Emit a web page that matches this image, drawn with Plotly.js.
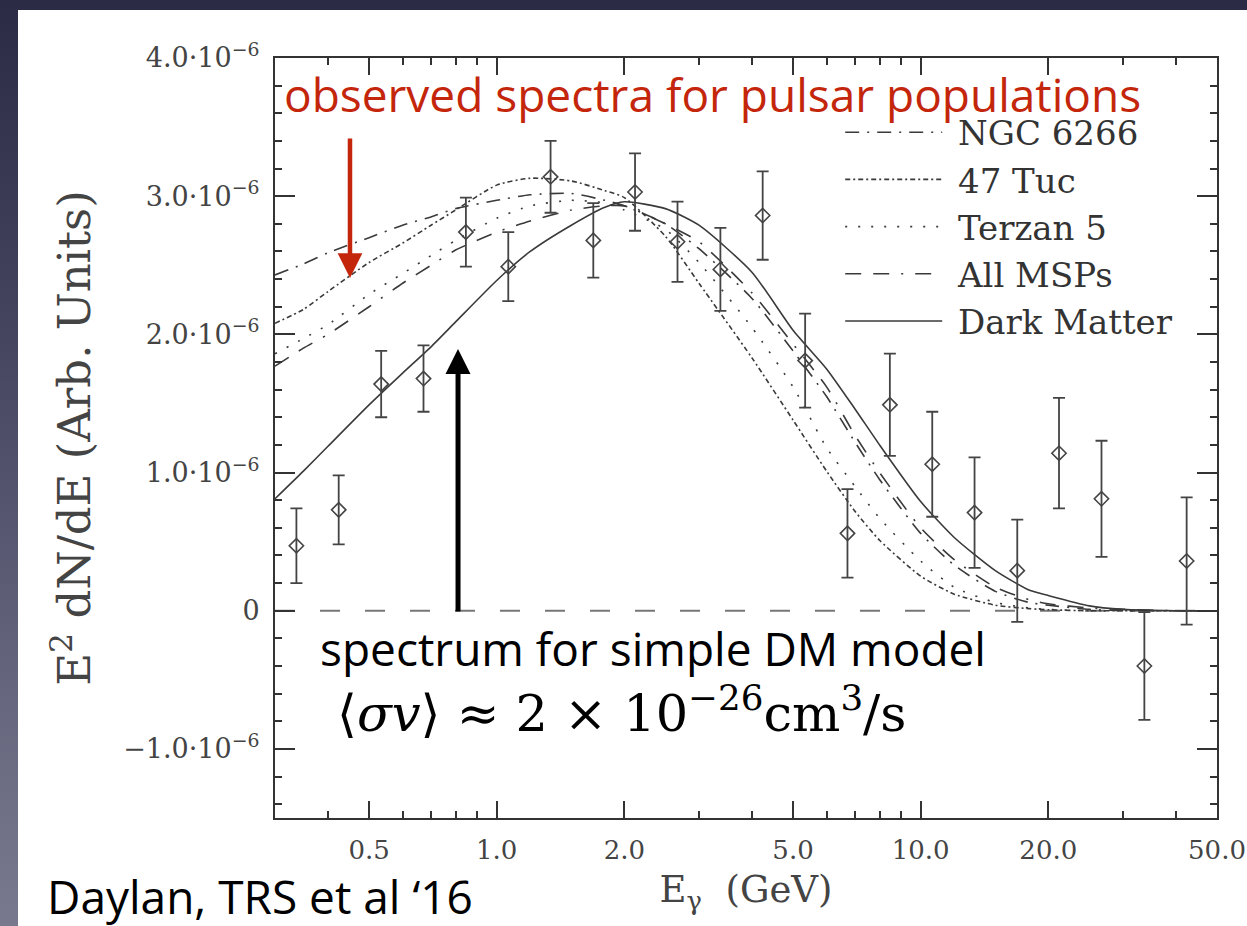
<!DOCTYPE html>
<html><head><meta charset="utf-8">
<script src="https://cdn.plot.ly/plotly-3.0.1.min.js"></script>
<style>
html,body{margin:0;padding:0;width:1247px;height:926px;overflow:hidden;
background:linear-gradient(to bottom,#2b2b46 0%,#44445f 35%,#66667e 75%,#78788e 100%);}
#chart{position:absolute;left:18px;top:10px;width:1229px;height:916px;background:#fff;}
</style></head><body><div id="chart"></div>
<script>
// Measured data points (E in GeV, E^2 dN/dE in units of 1e-6)
const energyBins = [0.337,0.424,0.534,0.672,0.846,1.065,1.34,1.69,2.12,2.67,3.37,4.24,5.34,6.72,8.46,10.65,13.4,16.9,21.2,26.7,33.7,42.4];
const fluxData   = [0.47,0.73,1.64,1.68,2.74,2.49,3.14,2.68,3.03,2.67,2.47,2.86,1.81,0.56,1.49,1.06,0.71,0.29,1.14,0.81,-0.40,0.36];
const fluxErr    = [0.27,0.25,0.24,0.24,0.25,0.25,0.26,0.27,0.28,0.29,0.30,0.32,0.34,0.32,0.37,0.38,0.40,0.37,0.40,0.42,0.39,0.46];

// Model spectra (units of 1e-6)
const modelE    = [0.3,0.35,0.4,0.5,0.6,0.7,0.8,1.0,1.2,1.5,1.8,2.0,2.5,3,4,5,6,7,8,10,12,15,18,20,25,30,40,50];
const ngc6266   = [2.43,2.51,2.59,2.70,2.79,2.85,2.91,2.97,3.01,3.02,2.97,2.93,2.80,2.62,2.26,1.88,1.55,1.22,0.95,0.56,0.33,0.14,0.06,0.04,0.01,0,0,0];
const tuc47     = [2.08,2.18,2.31,2.52,2.66,2.79,2.90,3.08,3.13,3.11,3.04,2.99,2.71,2.37,1.83,1.38,1.01,0.72,0.51,0.25,0.12,0.04,0.015,0.007,0,0,0,0];
const terzan5   = [1.86,1.97,2.07,2.29,2.44,2.57,2.68,2.84,2.93,2.97,2.95,2.90,2.76,2.52,2.05,1.62,1.18,0.90,0.67,0.36,0.17,0.06,0.02,0.01,0,0,0,0];
const allMSPs   = [1.77,1.90,2.00,2.20,2.37,2.50,2.61,2.74,2.82,2.90,2.93,2.93,2.80,2.67,2.30,1.93,1.62,1.27,1.00,0.60,0.37,0.17,0.08,0.05,0.02,0.01,0,0];
const darkMatter= [0.81,1.01,1.19,1.49,1.72,1.91,2.09,2.39,2.60,2.79,2.92,2.96,2.91,2.79,2.45,2.03,1.75,1.46,1.20,0.79,0.53,0.29,0.15,0.11,0.035,0.01,0,0];

const zeroE = [0.3,50];
const zeroY = [0,0];

const seriesNames = ['NGC 6266','47 Tuc','Terzan 5','All MSPs','Dark Matter'];

const xTickVals = [0.5,1,2,5,10,20,50];
const xTickText = ['0.5','1.0','2.0','5.0','10.0','20.0','50.0'];
const xMinorVals = [0.3,0.4,0.6,0.7,0.8,0.9,3,4,6,7,8,9,30,40];
const yTickVals = [-1,0,1,2,3,4];
const yTickText = ['−1.0·10<sup>−6</sup>','0','1.0·10<sup>−6</sup>','2.0·10<sup>−6</sup>','3.0·10<sup>−6</sup>','4.0·10<sup>−6</sup>'];

const serif = 'DejaVu Serif, serif';
const sans = 'Open Sans, Lato, sans-serif';
const lineCol = '#3a3a3a';
const pad = '\u00a0';

function model(name, y, dash){
  return {x: modelE, y: y, name: pad + name, type:'scatter', mode:'lines',
    line:{color: lineCol, width:1.6, dash: dash, shape:'spline', smoothing:0.6}};
}

const traces = [
  {x: zeroE, y: zeroY, type:'scatter', mode:'lines', showlegend:false,
   line:{color:'#777', width:2, dash:'20px,25px'}, hoverinfo:'skip'},
  model(seriesNames[0], ngc6266, '14px,8px,2px,8px'),
  model(seriesNames[1], tuc47, '5px,3px,2px,3px'),
  model(seriesNames[2], terzan5, '2px,11px'),
  model(seriesNames[3], allMSPs, '16px,12px,16px,12px,2px,12px'),
  model(seriesNames[4], darkMatter, 'solid'),
  {x: energyBins, y: fluxData, type:'scatter', mode:'markers', showlegend:false,
   marker:{symbol:'diamond-open', size:11, color:'#444', line:{width:1.6, color:'#444'}},
   error_y:{type:'data', array: fluxErr, visible:true, color:'#444', thickness:1.8, width:6}}
];

const axisCommon = {
  showline:true, linecolor:'#333', linewidth:2, mirror:'allticks',
  ticks:'inside', tickwidth:2, tickcolor:'#333', showgrid:false, zeroline:false
};

const layout = {
  width:1229, height:916,
  paper_bgcolor:'#fff', plot_bgcolor:'#fff',
  margin:{l:257, r:30, t:48, b:108},
  showlegend:true,
  legend:{x:0.6, y:0.94, xanchor:'left', yanchor:'top', bgcolor:'rgba(0,0,0,0)',
    font:{family:serif, size:34, color:'#333'}, itemwidth:97, tracegroupgap:0},
  xaxis: Object.assign({}, axisCommon, {
    type:'log', range:[Math.log10(0.3), Math.log10(50)],
    tickmode:'array', tickvals:xTickVals, ticktext:xTickText, ticklen:17,
    tickfont:{family:serif, size:26, color:'#444'}, ticklabelstandoff:8,
    minor:{tickmode:'array', tickvals:xMinorVals, ticks:'inside', ticklen:7, tickwidth:2, tickcolor:'#333', showgrid:false},
    title:{text:'E<sub>γ</sub>  (GeV)', font:{family:serif, size:37, color:'#444'}, standoff:12}
  }),
  yaxis: Object.assign({}, axisCommon, {
    range:[-1.5, 4.0],
    tickmode:'array', tickvals:yTickVals, ticktext:yTickText, ticklen:20,
    tickfont:{family:serif, size:27, color:'#444'}, ticklabelstandoff:8,
    minor:{dtick:0.2, tick0:0, ticks:'inside', ticklen:7, tickwidth:2, tickcolor:'#333', showgrid:false},
    title:{text:'E<sup>2</sup> dN/dE (Arb. Units)', font:{family:serif, size:45, color:'#444'}, standoff:18}
  }),
  annotations:[
    {xref:'paper', yref:'paper', x:0.007, y:0.952, xanchor:'left', yanchor:'middle', showarrow:false,
     text:'observed spectra for pulsar populations', font:{family:sans, size:46, color:'#c4260c'}},
    {xref:'paper', yref:'paper', x:0.0457, y:0.2237, xanchor:'left', yanchor:'middle', showarrow:false,
     text:'spectrum for simple DM model', font:{family:sans, size:46, color:'#000'}},
    {xref:'paper', yref:'paper', x:0.0637, y:0.142, xanchor:'left', yanchor:'middle', showarrow:false,
     text:'⟨<i>σv</i>⟩ ≈ 2 × 10<sup>−26</sup>cm<sup>3</sup>/s', font:{family:'DejaVu Serif, serif', size:51, color:'#000'}},
    {xref:'paper', yref:'paper', x:-0.244, y:-0.103, xanchor:'left', yanchor:'middle', showarrow:false,
     text:'Daylan, TRS et al ‘16', font:{family:sans, size:46, color:'#000'}},
    {xref:'paper', yref:'paper', x:0.0796, y:0.7105, ax:0, ay:-141, text:'', showarrow:true,
     arrowhead:2, arrowwidth:4.5, arrowsize:1.1, arrowcolor:'#c4260c'},
    {xref:'paper', yref:'paper', x:0.1943, y:0.6171, ax:0, ay:264, text:'', showarrow:true,
     arrowhead:2, arrowwidth:5, arrowsize:1, arrowcolor:'#000'}
  ]
};

Plotly.newPlot('chart', traces, layout, {displayModeBar:false, staticPlot:true});
</script></body></html>
